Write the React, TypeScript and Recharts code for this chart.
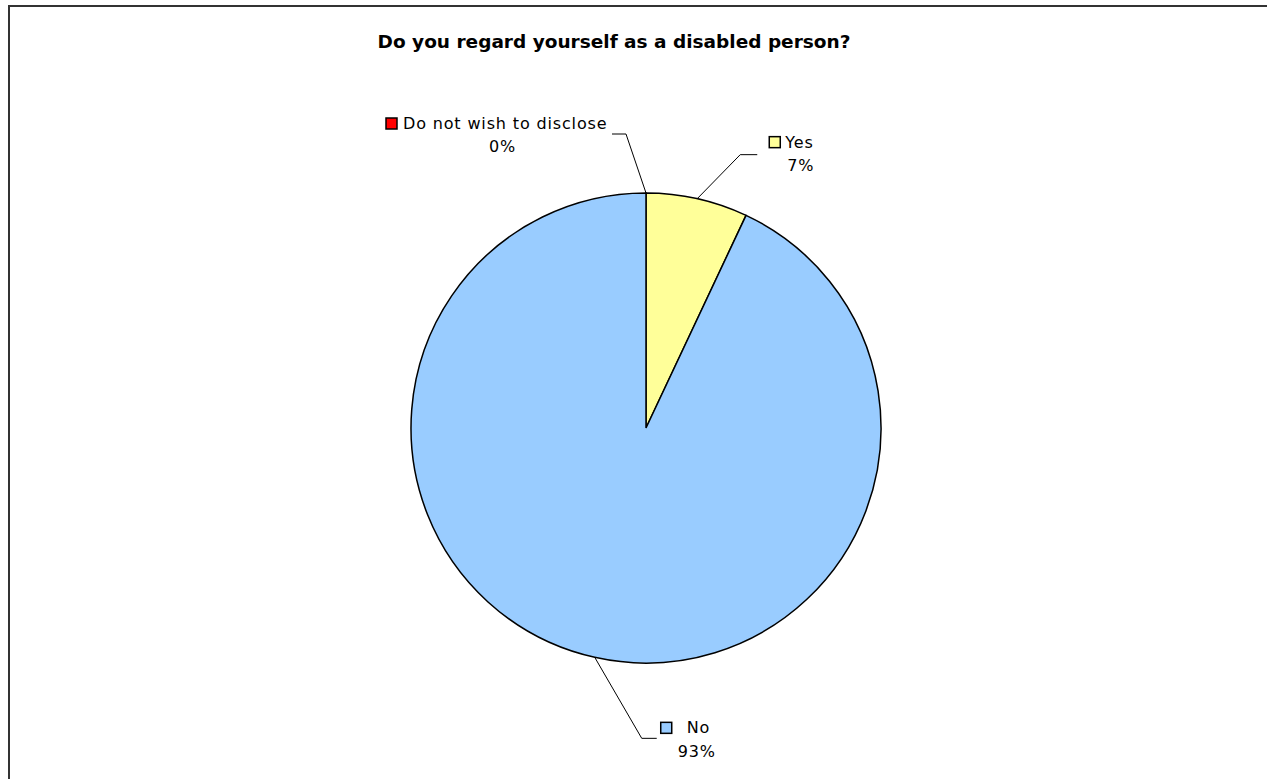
import React from "react";
import { PieChart, Pie, Cell } from "recharts";

const categories = ["Yes", "No", "Do not wish to disclose"];
const values = [7, 93, 0];
const colors = ["#FFFF99", "#99CCFF", "#FF0000"];
const title = "Do you regard yourself as a disabled person?";

// label layout (style only): elbow offset from slice edge, horizontal run, text offsets from end of line
const labelLayout = [
  { ex: 43, ey: -44, run: 17, sq: [12, -18], name: [28, -7], pct: [30, 16] },
  { ex: 47, ey: 81, run: 15, sq: [4, -16], name: [30, -5], pct: [21, 19] },
  { ex: -20, ey: -59, run: -14, sq: [-226, -16], name: [-209, -5], pct: [-123, 18] },
];

const data = categories.map((name, i) => ({ name, value: values[i] }));
const total = values.reduce((a, b) => a + b, 0);
const RAD = Math.PI / 180;
const FONT = "'DejaVu Sans', Verdana, sans-serif";

const renderLabel = (props: any) => {
  const { cx, cy, midAngle, outerRadius, index } = props;
  const L = labelLayout[index];
  const sx = cx + outerRadius * Math.cos(-midAngle * RAD);
  const sy = cy + outerRadius * Math.sin(-midAngle * RAD);
  const mx = sx + L.ex;
  const my = sy + L.ey;
  const exx = mx + L.run;
  const pct = Math.round((values[index] / total) * 100) + "%";
  return (
    <g key={"lbl" + index}>
      <polyline points={`${sx},${sy} ${mx},${my} ${exx},${my}`} fill="none" stroke="#000" strokeWidth={1} />
      <rect x={exx + L.sq[0]} y={my + L.sq[1]} width={11} height={11} fill={colors[index]} stroke="#000" strokeWidth={1.5} />
      <text x={exx + L.name[0]} y={my + L.name[1]} fontFamily={FONT} fontSize={16} letterSpacing={0.85} fill="#000">
        {categories[index]}
      </text>
      <text x={exx + L.pct[0]} y={my + L.pct[1]} fontFamily={FONT} fontSize={16} letterSpacing={0.85} fill="#000">
        {pct}
      </text>
    </g>
  );
};

export default function App() {
  return (
    <div style={{ position: "fixed", left: 0, top: 0, width: 1267, height: 779, overflow: "hidden", background: "#fff" }}>
      <div style={{ position: "absolute", left: 8, top: 5, width: 1300, height: 800, border: "2px solid #333", boxSizing: "border-box" }} />
      <div style={{ position: "absolute", left: 0, top: 0 }}>
        <PieChart width={1267} height={779} margin={{ top: 0, right: 0, bottom: 0, left: 0 }}>
          <text x={614} y={48} textAnchor="middle" fontFamily={FONT} fontWeight="bold" fontSize={18.5} fill="#000">
            {title}
          </text>
          <Pie
            data={data}
            dataKey="value"
            nameKey="name"
            cx={646}
            cy={428}
            outerRadius={235}
            startAngle={90}
            endAngle={-270}
            stroke="#000"
            strokeWidth={1.5}
            label={renderLabel}
            labelLine={false}
            isAnimationActive={false}
          >
            {data.map((d, i) => (
              <Cell key={d.name} fill={colors[i]} />
            ))}
          </Pie>
        </PieChart>
      </div>
    </div>
  );
}
